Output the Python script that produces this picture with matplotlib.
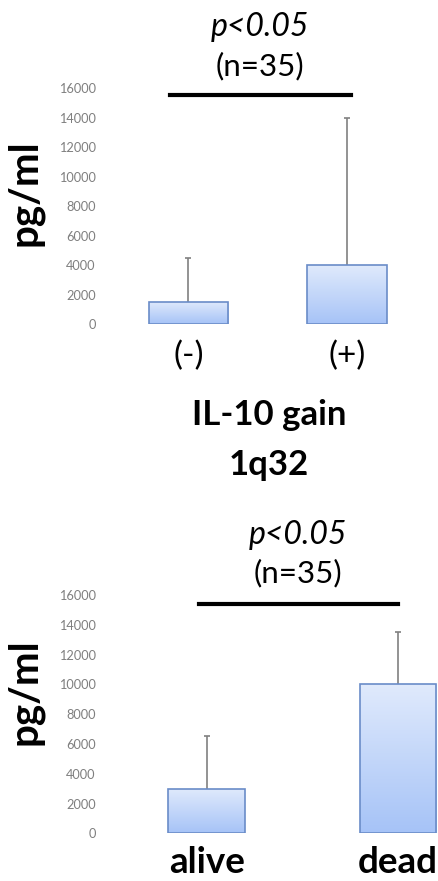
import numpy as np
import matplotlib.pyplot as plt
from matplotlib.colors import LinearSegmentedColormap

# top panel: IL-10 gain 1q32
gain_labels = ['(-)', '(+)']
gain_means = [1500, 4000]
gain_err = [3000, 10000]

# bottom panel: outcome
outcome_labels = ['alive', 'dead']
outcome_means = [3000, 10000]
outcome_err = [3500, 3500]

yticks = [0, 2000, 4000, 6000, 8000, 10000, 12000, 14000, 16000]

W, H = 439, 881
plt.rcParams['font.family'] = ['Lato', 'DejaVu Sans']

grad = LinearSegmentedColormap.from_list('g', ['#a6c3f7', '#e0eafc'])


def fx(px):
    return px / W


def fy(py):
    return 1 - py / H


def panel(ax, labels, means, errs, xlim, width, lab_size, lab_weight, lab_pad, sig, ylab_xy):
    x = np.arange(len(means))
    bars = ax.bar(x, means, width=width, color='none', edgecolor='#6a8cc8',
                  linewidth=1.2, zorder=3)
    g = np.linspace(0, 1, 256).reshape(-1, 1)
    for b in bars:
        im = ax.imshow(g, cmap=grad, origin='lower', aspect='auto',
                       extent=(b.get_x(), b.get_x() + b.get_width(), 0, b.get_height()),
                       zorder=2)
        im.set_clip_path(b)
    tops = np.array(means) + np.array(errs)
    ax.vlines(x, means, tops, color='#808080', linewidth=1.2, zorder=1)
    ax.plot(x, tops, linestyle='none', marker='_', markersize=5,
            markeredgewidth=1.2, color='#808080')
    ax.set_xlim(*xlim)
    ax.set_ylim(0, 16000)
    ax.set_yticks(yticks)
    ax.set_yticklabels([str(v) for v in yticks], color='#7f7f7f', fontsize=9.2)
    ax.set_xticks(x)
    ax.set_xticklabels(labels, fontsize=lab_size, fontweight=lab_weight)
    ax.tick_params(axis='y', length=0, pad=3)
    ax.tick_params(axis='x', length=0, pad=lab_pad)
    for s in ax.spines.values():
        s.set_visible(False)
    ax.set_ylabel('pg/ml', fontsize=29, fontweight='bold')
    ax.yaxis.set_label_coords(*ylab_xy)
    # significance bar
    ax.plot(sig[0], [sig[1], sig[1]], color='black', linewidth=3, clip_on=False)


fig = plt.figure(figsize=(W / 100, H / 100), dpi=100)

ax1 = fig.add_axes([fx(100), fy(324), fx(339), (324 - 88.3) / H])
panel(ax1, gain_labels, gain_means, gain_err, (-0.558, 1.580), 0.50, 24, 'normal', 12,
      ((-0.117, 1.025), 15573), (-0.168, 0.555))

ax2 = fig.add_axes([fx(100), fy(833.3), fx(339), (833.3 - 595) / H])
panel(ax2, outcome_labels, outcome_means, outcome_err, (-0.558, 1.216), 0.40, 26.5, 'bold', 9,
      ((-0.039, 1.003), 15395), (-0.168, 0.596))

fig.text(fx(260), fy(27), 'p<0.05', fontsize=23, style='italic', ha='center', va='center')
fig.text(fx(260), fy(66), '(n=35)', fontsize=22.5, ha='center', va='center')
fig.text(fx(269), fy(415), 'IL-10 gain', fontsize=25, fontweight='bold', ha='center', va='center')
fig.text(fx(269), fy(465), '1q32', fontsize=25, fontweight='bold', ha='center', va='center')
fig.text(fx(298), fy(535), 'p<0.05', fontsize=23, style='italic', ha='center', va='center')
fig.text(fx(298), fy(573), '(n=35)', fontsize=22.5, ha='center', va='center')

fig.savefig('out.png', dpi=100)
